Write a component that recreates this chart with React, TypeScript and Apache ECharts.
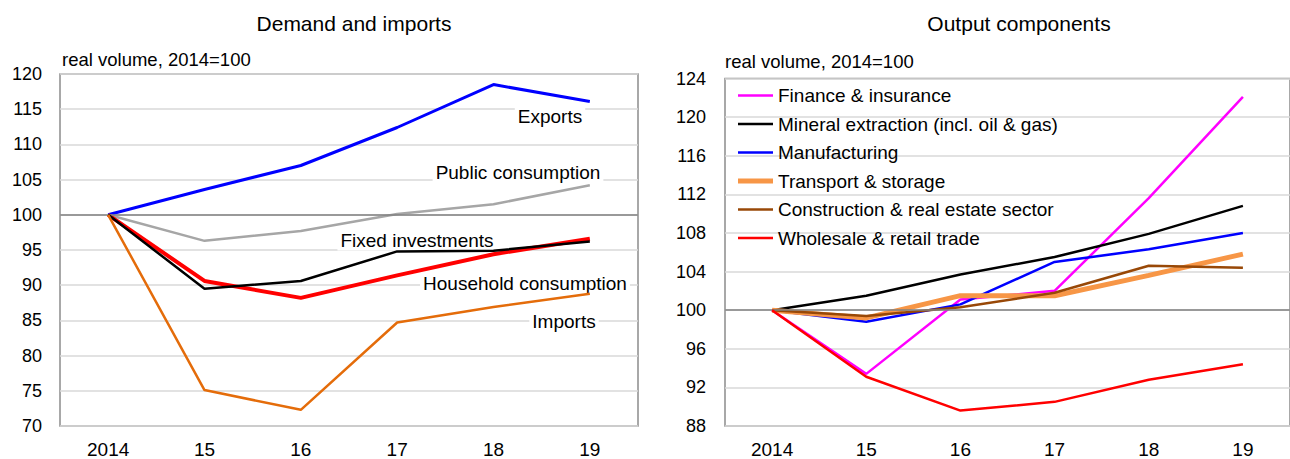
import React, { useEffect, useRef } from "react";
import * as echarts from "echarts";

const years = ["2014", "15", "16", "17", "18", "19"];

// Demand and imports (real volume, 2014=100)
const exportsVals = [100, 103.6, 107.0, 112.4, 118.5, 116.1];
const publicCons = [100, 96.3, 97.7, 100.1, 101.5, 104.2];
const fixedInv = [100, 89.5, 90.6, 94.8, 94.9, 96.2];
const householdCons = [100, 90.6, 88.2, 91.4, 94.4, 96.6];
const importsVals = [100, 75.1, 72.3, 84.7, 86.9, 88.8];

// Output components (real volume, 2014=100)
const finance = [100, 93.4, 101.1, 102.0, 111.6, 122.1];
const mineral = [100, 101.5, 103.7, 105.5, 107.9, 110.8];
const manufacturing = [100, 98.8, 100.6, 105.0, 106.3, 108.0];
const transport = [100, 99.2, 101.5, 101.5, 103.6, 105.8];
const construction = [100, 99.4, 100.3, 101.8, 104.6, 104.4];
const wholesale = [100, 93.1, 89.6, 90.5, 92.8, 94.4];

const outputNames = [
  "Finance & insurance",
  "Mineral extraction (incl. oil & gas)",
  "Manufacturing",
  "Transport & storage",
  "Construction & real estate sector",
  "Wholesale & retail trade",
];

const leftTicks = { min: 70, max: 120, interval: 5 };
const rightTicks = { min: 88, max: 124, interval: 4 };

const FONT = "Liberation Sans, Arial, sans-serif";
const THIN_ICON = "path://M0,0h35v2.5h-35z";

export default function App() {
  const ref = useRef<HTMLDivElement>(null);
  useEffect(() => {
    document.body.style.margin = "0";
    const chart = echarts.init(ref.current!, null, { renderer: "svg" });
    const gridLine = { show: true, lineStyle: { color: "#d9d9d9", width: 1.5 } };
    const baseLine = {
      silent: true,
      symbol: ["none", "none"],
      label: { show: false },
      lineStyle: { color: "#808080", width: 1.5, type: "solid" },
      data: [{ yAxis: 100 }],
    };
    const mk = (name: string, data: number[], color: string, width: number, xi: number, z: number, withBase = false) => ({
      type: "line",
      name,
      data,
      xAxisIndex: xi,
      yAxisIndex: xi,
      symbol: "none",
      z,
      lineStyle: { color, width },
      itemStyle: { color },
      ...(withBase ? { markLine: baseLine } : {}),
    });
    const note = (text: string, x: number, y: number) => ({
      type: "text",
      x,
      y,
      z: 1,
      style: {
        text,
        fontFamily: FONT,
        fontSize: 19,
        fill: "#000",
        align: "center",
        verticalAlign: "middle",
        backgroundColor: "#fff",
        padding: [1, 3],
      },
    });
    chart.setOption({
      animation: false,
      textStyle: { fontFamily: FONT },
      title: [
        { text: "Demand and imports", left: 349, top: 8, textAlign: "center", textStyle: { fontFamily: FONT, fontSize: 21, fontWeight: "normal", color: "#000" } },
        { text: "Output components", left: 1014, top: 8, textAlign: "center", textStyle: { fontFamily: FONT, fontSize: 21, fontWeight: "normal", color: "#000" } },
      ],
      grid: [
        { left: 60, top: 74, width: 578, height: 357, show: true, borderColor: "#8c8c8c", borderWidth: 1.5, backgroundColor: "transparent" },
        { left: 725, top: 78.5, width: 578, height: 354, show: true, borderColor: "#8c8c8c", borderWidth: 1.5, backgroundColor: "transparent" },
      ],
      xAxis: [0, 1].map((i) => ({
        type: "category",
        gridIndex: i,
        data: years,
        boundaryGap: true,
        axisLine: { show: false },
        axisTick: { show: false },
        axisLabel: { fontFamily: FONT, fontSize: 19, color: "#000", margin: 14 },
        splitLine: { show: false },
      })),
      yAxis: [
        {
          type: "value",
          gridIndex: 0,
          ...leftTicks,
          axisLine: { show: false },
          axisTick: { show: false },
          axisLabel: { fontFamily: FONT, fontSize: 18, color: "#000", margin: 18 },
          splitLine: gridLine,
        },
        {
          type: "value",
          gridIndex: 1,
          ...rightTicks,
          axisLine: { show: false },
          axisTick: { show: false },
          axisLabel: { fontFamily: FONT, fontSize: 18, color: "#000", margin: 19 },
          splitLine: gridLine,
        },
      ],
      legend: {
        orient: "vertical",
        left: 738,
        top: 86,
        padding: 0,
        itemWidth: 35,
        itemHeight: 5,
        itemGap: 9.5,
        textStyle: { fontFamily: FONT, fontSize: 19, color: "#000" },
        data: outputNames.map((name) => ({
          name,
          icon: name === "Transport & storage" ? "rect" : THIN_ICON,
        })),
      },
      graphic: [
        { type: "text", left: 62, top: 50, style: { text: "real volume, 2014=100", fontFamily: FONT, fontSize: 18.5, fill: "#000" } },
        { type: "text", left: 725, top: 52, style: { text: "real volume, 2014=100", fontFamily: FONT, fontSize: 18.5, fill: "#000" } },
        note("Exports", 550, 116.5),
        note("Public consumption", 518, 172.5),
        note("Fixed investments", 417, 240),
        note("Household consumption", 525, 283),
        note("Imports", 564, 321.5),
      ],
      series: [
        mk("Exports", exportsVals, "#0000ff", 3, 0, 3, true),
        mk("Public consumption", publicCons, "#a6a6a6", 2.5, 0, 3),
        mk("Household consumption", householdCons, "#ff0000", 4, 0, 4),
        mk("Fixed investments", fixedInv, "#000000", 2.5, 0, 5),
        mk("Imports", importsVals, "#e46c0a", 2.5, 0, 5),
        mk(outputNames[0], finance, "#ff00ff", 2.5, 1, 3, true),
        mk(outputNames[1], mineral, "#000000", 2.5, 1, 3),
        mk(outputNames[2], manufacturing, "#0000ff", 2.5, 1, 3),
        mk(outputNames[3], transport, "#f79646", 5, 1, 3),
        mk(outputNames[4], construction, "#984807", 2.5, 1, 4),
        mk(outputNames[5], wholesale, "#ff0000", 2.5, 1, 5),
      ],
    });
    return () => chart.dispose();
  }, []);
  return <div ref={ref} style={{ width: 1290, height: 459 }} />;
}
